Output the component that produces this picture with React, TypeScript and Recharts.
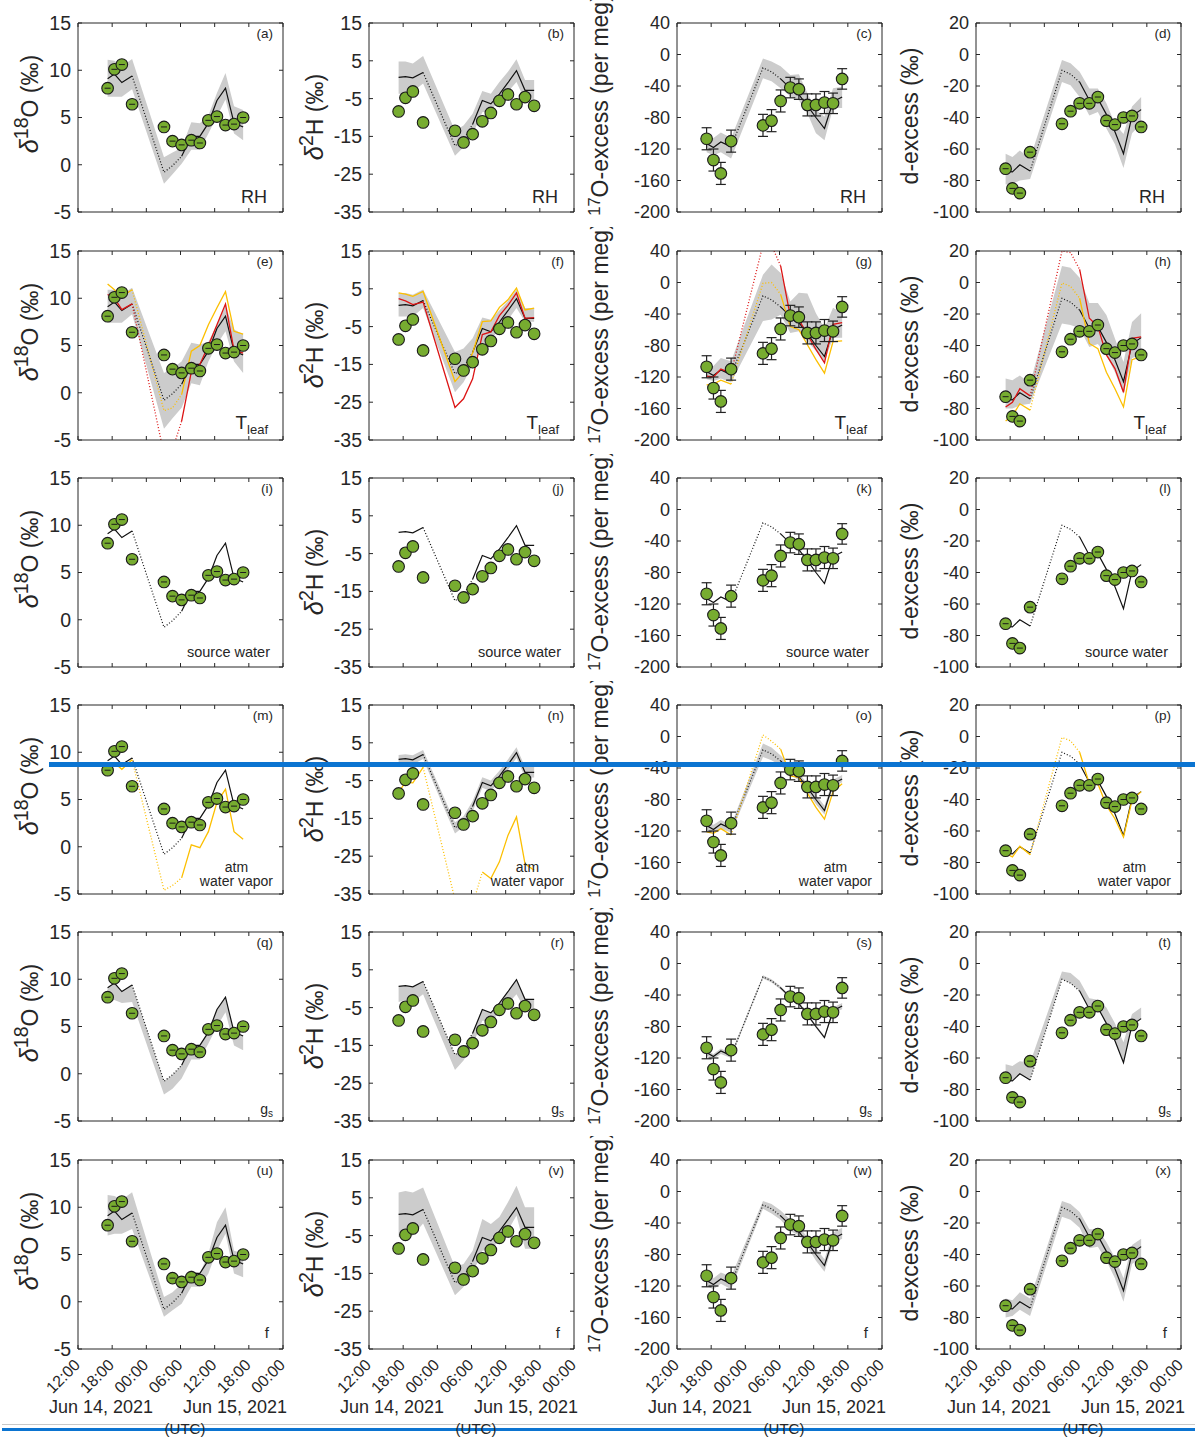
import type { ReactNode } from 'react'
import { Area, ComposedChart, ErrorBar, Line, Scatter, XAxis, YAxis } from 'recharts'

// sampling times, hours after Jun 14 2021 12:00 UTC
const hours = [5.2, 6.4, 7.7, 9.5, 15.1, 16.6, 18.2, 19.9, 21.4, 22.9, 24.4, 25.9, 27.4, 29.0]
const timeTicks = [0, 6, 12, 18, 24, 30, 36]
const timeLabels = ['12:00', '18:00', '00:00', '06:00', '12:00', '18:00', '00:00']

// d18O
const d18OTicks = [-5, 0, 5, 10, 15]
const obsD18O = [8.1, 10.1, 10.6, 6.4, 4.0, 2.5, 2.1, 2.6, 2.3, 4.7, 5.1, 4.2, 4.3, 5.0]
const modelD18O = [9.1, 9.6, 8.7, 9.4, -0.8, -0.1, 0.9, 3.0, 3.0, 4.4, 6.8, 8.1, 4.4, 4.0]
const bandRH18 = [[7.2, 11.1], [7.2, 11.0], [7.2, 10.4], [8.0, 11.2], [-2.0, 0.8], [-1.0, 1.3], [0.1, 1.8], [1.6, 4.5], [1.6, 4.4], [3.3, 5.2], [5.1, 7.6], [6.9, 9.7], [3.3, 6.2], [2.6, 5.8]]
const bandT18 = [[7.4, 10.9], [7.4, 10.9], [7.4, 10.4], [8.3, 11.1], [-3.8, 2.1], [-2.7, 2.6], [-1.6, 3.3], [1.0, 5.3], [0.8, 5.1], [3.3, 5.4], [5.1, 7.2], [6.5, 9.2], [3.3, 6.7], [2.1, 6.2]]
const yellowT18 = [11.5, 10.9, 10.2, 10.9, -1.9, -1.6, -0.2, 4.4, 5.0, 7.2, 9.0, 10.7, 6.5, 6.2]
const redT18 = [10.4, 10.0, 8.8, 9.4, -6.5, -6.0, -3.0, 2.2, 3.0, 5.0, 7.2, 9.4, 4.5, 4.2]
const yellowAtm18 = [8.1, 8.9, 8.2, 9.2, -4.6, -4.1, -3.3, 0.2, -0.1, 1.6, 4.7, 6.1, 1.6, 0.8]
const bandGs18 = [[7.6, 9.1], [7.8, 9.6], [7.5, 8.7], [7.6, 9.4], [-2.2, -0.8], [-1.6, -0.1], [-0.5, 0.9], [1.5, 3.0], [1.5, 3.0], [3.2, 4.4], [5.0, 6.8], [6.5, 8.1], [3.0, 4.4], [2.5, 4.0]]
const bandF18 = [[7.0, 11.3], [7.2, 11.2], [7.2, 10.8], [7.7, 11.6], [-1.6, 0.5], [-0.9, 1.0], [-0.2, 1.9], [1.6, 3.3], [1.6, 3.0], [3.0, 5.1], [5.4, 8.4], [7.2, 10.0], [3.0, 5.4], [2.6, 5.1]]

// d2H
const d2HTicks = [-35, -25, -15, -5, 5, 15]
const obsD2H = [-8.4, -4.8, -3.1, -11.3, -13.5, -16.6, -14.4, -11.0, -8.8, -5.6, -3.9, -6.5, -4.6, -6.9]
const modelD2H = [0.6, 0.8, 0.5, 1.9, -17.5, -15.8, -11.8, -5.5, -6.4, -3.8, -0.8, 2.4, -2.8, -2.8]
const bandRH2H = [[-3.7, 4.8], [-3.7, 4.8], [-3.2, 4.3], [-1.0, 6.3], [-20.1, -13.5], [-17.9, -12.1], [-14.4, -9.0], [-8.6, -3.0], [-8.1, -3.7], [-5.5, -0.6], [-3.2, 2.1], [-0.6, 5.4], [-5.5, -0.1], [-5.5, -0.1]]
const bandT2H = [[-2.3, 3.9], [-2.3, 3.9], [-2.3, 3.4], [-0.1, 4.8], [-22.4, -11.7], [-19.7, -10.8], [-15.2, -8.1], [-9.5, -2.6], [-8.6, -3.2], [-5.5, -0.7], [-3.2, 1.8], [-0.1, 4.8], [-3.7, -0.1], [-3.7, -0.1]]
const yellowT2H = [3.9, 3.6, 3.0, 4.3, -19.5, -17.0, -12.0, -3.7, -3.5, 0.1, 2.1, 5.2, -0.6, -0.1]
const redT2H = [2.4, 1.8, 0.8, 1.5, -26.4, -24.1, -18.8, -7.1, -6.4, -2.1, 0.6, 3.9, -2.8, -2.6]
const yellowAtm2H = [-8.1, -5.4, -5.6, -1.5, -36.5, -40.0, -37.8, -29.2, -30.9, -26.5, -19.5, -14.6, -27.0, -28.7]
const bandAtm2H = [[-0.6, 1.8], [-0.4, 2.0], [-0.7, 1.7], [0.7, 3.1], [-19.0, -16.0], [-17.2, -14.4], [-13.2, -10.4], [-6.9, -4.1], [-7.8, -5.0], [-5.2, -2.4], [-2.2, 0.6], [1.0, 3.8], [-4.2, -1.4], [-4.2, -1.4]]
const bandGs2H = [[-3.5, 0.6], [-3.0, 0.8], [-3.5, 0.5], [-1.5, 1.9], [-21.5, -17.5], [-19.0, -15.8], [-15.0, -11.8], [-8.5, -5.5], [-8.5, -6.4], [-6.5, -3.8], [-4.0, -0.8], [-1.5, 2.4], [-5.5, -2.8], [-5.5, -2.8]]
const bandF2H = [[-5.4, 6.4], [-5.4, 6.8], [-5.0, 6.4], [-1.8, 7.7], [-20.8, -13.3], [-18.6, -12.5], [-15.1, -9.0], [-9.0, -0.6], [-8.6, -1.9], [-6.3, -0.1], [-3.7, 3.8], [0.3, 8.2], [-8.5, 2.5], [-8.5, 2.5]]

// 17O-excess
const d17Ticks = [-200, -160, -120, -80, -40, 0, 40]
const obsD17 = [-107, -134, -151, -110, -90, -84, -59, -42, -44, -64, -64, -61, -62, -31]
const errD17 = [14, 14, 14, 14, 14, 14, 14, 13, 13, 14, 14, 14, 13, 13]
const modelD17 = [-113, -118, -111, -117, -17, -22, -31, -43, -51, -65, -80, -94, -60, -54]
const bandRH17 = [[-124, -102], [-128, -106], [-124, -99], [-132, -106], [-30, -5], [-34, -9], [-43, -15], [-53, -26], [-58, -25], [-75, -49], [-100, -70], [-109, -79], [-68, -43], [-68, -41]]
const bandT17 = [[-123, -104], [-125, -106], [-122, -96], [-127, -100], [-49, 10], [-47, 23], [-41, 12], [-64, -24], [-62, -13], [-75, -14], [-87, -39], [-100, -58], [-70, -32], [-70, -39]]
const yellowT17 = [-130, -129, -124, -129, -1, 0, -15, -56, -60, -79, -98, -115, -75, -74]
const redT17 = [-119, -120, -110, -115, 48, 47, 21, -43, -47, -66, -85, -102, -53, -51]
const yellowAtm17 = [-121, -123, -117, -125, 2, -6, -16, -50, -52, -72, -90, -105, -70, -60]
const bandAtm17 = [[-120, -108], [-123, -112], [-117, -106], [-122, -112], [-26, -9], [-30, -14], [-37, -24], [-48, -38], [-56, -46], [-70, -60], [-86, -74], [-99, -88], [-64, -55], [-58, -49]]
const bandGs17 = [[-117, -111], [-121, -115], [-115, -108], [-120, -114], [-19, -15], [-24, -20], [-33, -29], [-45, -41], [-53, -49], [-67, -63], [-82, -78], [-96, -92], [-63, -56], [-58, -50]]
const bandF17 = [[-120, -106], [-124, -110], [-117, -103], [-124, -108], [-22, -12], [-28, -16], [-36, -24], [-50, -36], [-56, -44], [-70, -58], [-88, -72], [-102, -86], [-66, -52], [-60, -46]]

// d-excess
const dexTicks = [-100, -80, -60, -40, -20, 0, 20]
const obsDex = [-72.5, -85, -88, -62, -44, -36, -31, -31, -27, -42, -44.5, -40, -39, -46]
const modelDex = [-74, -74.5, -70, -74, -10, -12.5, -17.5, -29, -28, -38, -49, -63, -39, -35]
const bandRHd = [[-82.5, -63], [-82, -65], [-80, -61], [-79, -66], [-17.4, -3.5], [-19.5, -5.5], [-27, -11], [-38.7, -21.6], [-36.5, -21.6], [-47, -31], [-57, -44], [-72, -50.5], [-50, -33], [-44, -27]]
const bandTd = [[-80, -61], [-80, -62], [-78, -59], [-77, -64], [-26, 10.4], [-27, 9.3], [-29, 3], [-41, -13], [-39, -13], [-46, -20.6], [-57, -35.5], [-70.8, -50.5], [-48, -25], [-46, -19.5]]
const yellowTd = [-88, -84.6, -77, -81, -0.3, -2.4, -10, -38.7, -42, -57, -67.5, -79, -49, -47]
const redTd = [-79, -76, -67.5, -72, 20, 19, 8.3, -22.7, -28, -46, -54.7, -69.7, -35.5, -34.5]
const yellowAtmd = [-74.3, -76.4, -69.7, -75, -0.6, -2.7, -10, -30, -30, -43.8, -52.2, -63.8, -40.6, -35]
const bandGsd = [[-74, -64], [-74.5, -65], [-70, -62], [-74, -63], [-10, -5], [-12.5, -6], [-17.5, -11], [-29, -22], [-28, -23], [-38, -28], [-49, -38], [-63, -50], [-39, -32], [-35, -28]]
const bandFd = [[-80, -68], [-79, -69], [-75, -64], [-79, -68], [-16, -6], [-18, -8], [-23, -13], [-36, -24], [-35, -24], [-44, -32], [-55, -42], [-70, -55], [-46, -34], [-42, -30]]

const INK = '#262626'
const GREEN = '#77ac30'
const GREY = '#cccccc'
const YELLOW = '#fcbf00'
const RED = '#dc1414'
const BLUE = '#0b74d1'
const FONT = "'Liberation Sans', Arial, sans-serif"

const PLOT_W = 205
const PLOT_H = 189
const AXIS_W = 70
const colLefts = [78, 369, 677, 976]
const rowTops = [23, 251, 478, 705, 932, 1160]
const letters = 'abcdefghijklmnopqrstuvwx'

type Band = number[][] | null
interface Extra { values: number[]; color: string; dotted: [number, number] | null }
interface Column {
  obs: number[]; err?: number[]; dash: boolean; model: number[]
  domain: [number, number]; ticks: number[]; tickFont: number
  title: ReactNode; titleDx: number; titleDy: number
}

const Sup = ({ children, size = 0.72 }: { children: ReactNode; size?: number }) => (
  <span style={{ fontSize: `${size}em`, position: 'relative', top: '-0.5em' }}>{children}</span>
)

const columns: Column[] = [
  { obs: obsD18O, dash: true, model: modelD18O, domain: [-5, 15], ticks: d18OTicks, tickFont: 19.5,
    title: <><i style={{ fontSize: '1.1em' }}>δ</i><Sup size={0.85}>18</Sup>O (‰)</>, titleDx: -48, titleDy: 81 },
  { obs: obsD2H, dash: false, model: modelD2H, domain: [-35, 15], ticks: d2HTicks, tickFont: 19.5,
    title: <><i style={{ fontSize: '1.1em' }}>δ</i><Sup size={0.85}>2</Sup>H (‰)</>, titleDx: -54, titleDy: 94 },
  { obs: obsD17, err: errD17, dash: false, model: modelD17, domain: [-200, 40], ticks: d17Ticks, tickFont: 18,
    title: <><Sup>17</Sup>O-excess (per meg)</>, titleDx: -77, titleDy: 82 },
  { obs: obsDex, dash: true, model: modelDex, domain: [-100, 20], ticks: dexTicks, tickFont: 18,
    title: <>d-excess (‰)</>, titleDx: -66, titleDy: 93 },
]

const night: [number, number] = [3, 6]

const rows: { bands: Band[]; extras: Extra[][]; note: ReactNode; right: number; cy: number }[] = [
  {
    bands: [bandRH18, bandRH2H, bandRH17, bandRHd],
    extras: [[], [], [], []],
    note: <span style={{ fontSize: 18 }}>RH</span>, right: 16, cy: 174,
  },
  {
    bands: [bandT18, bandT2H, bandT17, bandTd],
    extras: [
      [{ values: yellowT18, color: YELLOW, dotted: night }, { values: redT18, color: RED, dotted: night }],
      [{ values: yellowT2H, color: YELLOW, dotted: null }, { values: redT2H, color: RED, dotted: null }],
      [{ values: yellowT17, color: YELLOW, dotted: night }, { values: redT17, color: RED, dotted: night }],
      [{ values: yellowTd, color: YELLOW, dotted: night }, { values: redTd, color: RED, dotted: night }],
    ],
    note: <><span style={{ fontSize: 19 }}>T</span><span style={{ fontSize: 13, position: 'relative', top: 5 }}>leaf</span></>,
    right: 15, cy: 171,
  },
  {
    bands: [null, null, null, null],
    extras: [[], [], [], []],
    note: <span style={{ fontSize: 14.5 }}>source water</span>, right: 13, cy: 174,
  },
  {
    bands: [null, bandAtm2H, bandAtm17, null],
    extras: [
      [{ values: yellowAtm18, color: YELLOW, dotted: night }],
      [{ values: yellowAtm2H, color: YELLOW, dotted: [3, 7] }],
      [{ values: yellowAtm17, color: YELLOW, dotted: night }],
      [{ values: yellowAtmd, color: YELLOW, dotted: night }],
    ],
    note: <div style={{ textAlign: 'center', fontSize: 14, lineHeight: '14px' }}>atm<br />water vapor</div>,
    right: 10, cy: 169,
  },
  {
    bands: [bandGs18, bandGs2H, bandGs17, bandGsd],
    extras: [[], [], [], []],
    note: <><span style={{ fontSize: 14 }}>g</span><span style={{ fontSize: 10, position: 'relative', top: 3 }}>s</span></>,
    right: 10, cy: 177,
  },
  {
    bands: [bandF18, bandF2H, bandF17, bandFd],
    extras: [[], [], [], []],
    note: <span style={{ fontSize: 15 }}>f</span>, right: 14, cy: 173,
  },
]

const buildData = (c: Column, band: Band, extras: Extra[]) =>
  hours.map((t, i) => {
    const row: Record<string, unknown> = { t, obs: c.obs[i] }
    if (c.err) row.err = c.err[i]
    row.base = i <= night[0] || i >= night[1] ? c.model[i] : null
    row.baseDot = i >= night[0] && i <= night[1] ? c.model[i] : null
    if (band) row.band = band[i]
    extras.forEach((e, k) => {
      const d = e.dotted
      row[`e${k}`] = !d || i <= d[0] || i >= d[1] ? e.values[i] : null
      row[`e${k}d`] = d && i >= d[0] && i <= d[1] ? e.values[i] : null
    })
    return row
  })

const NoTick = () => <g />

const TimeTick = (p: { x?: number; y?: number; payload?: { value: number } }) => {
  const x = (p.x ?? 0) + 3
  const y = p.y ?? 0
  return (
    <text x={x} y={y} transform={`rotate(-45 ${x} ${y})`} textAnchor="end" fontSize={16} fill={INK}>
      {timeLabels[timeTicks.indexOf(p.payload?.value ?? 0)]}
    </text>
  )
}

const marker = (dash: boolean) => (p: { cx?: number; cy?: number }) => {
  if (p.cx == null || p.cy == null) return <g />
  return (
    <g>
      <circle cx={p.cx} cy={p.cy} r={5.8} fill={GREEN} stroke="#1a1a1a" strokeWidth={1.1} />
      {dash && <line x1={p.cx - 3} x2={p.cx + 3} y1={p.cy} y2={p.cy} stroke="#1a1a1a" strokeWidth={1} />}
    </g>
  )
}

const Panel = ({ row, col }: { row: number; col: number }) => {
  const c = columns[col]
  const r = rows[row]
  const band = r.bands[col]
  const extras = r.extras[col]
  const bottom = row === rowTops.length - 1
  const xh = bottom ? 48 : 1
  const mb = bottom ? 5 : 14
  const data = buildData(c, band, extras)
  return (
    <div style={{ position: 'absolute', left: colLefts[col] - AXIS_W, top: rowTops[row] - 11 }}>
      <ComposedChart
        width={AXIS_W + PLOT_W + 1 + 10}
        height={11 + PLOT_H + xh + mb}
        data={data}
        margin={{ top: 10, right: 10, bottom: mb, left: 0 }}
      >
        <XAxis dataKey="t" type="number" domain={[0, 36]} ticks={timeTicks} allowDataOverflow height={xh}
          tickSize={-4} tickMargin={bottom ? 21 : 4} tick={bottom ? TimeTick : NoTick} stroke={INK} />
        <XAxis xAxisId="top" orientation="top" dataKey="t" type="number" domain={[0, 36]} ticks={timeTicks}
          allowDataOverflow height={1} tickSize={-4} tick={NoTick} stroke={INK} />
        <YAxis type="number" domain={c.domain} ticks={c.ticks} allowDataOverflow width={AXIS_W} tickSize={-4}
          tickMargin={11} tick={{ fontSize: c.tickFont, fill: INK }} stroke={INK} />
        <YAxis yAxisId="right" orientation="right" type="number" domain={c.domain} ticks={c.ticks} allowDataOverflow
          width={1} tickSize={-4} tick={NoTick} stroke={INK} />
        {band && (
          <Area dataKey="band" type="linear" stroke="none" fill={GREY} fillOpacity={1} dot={false} activeDot={false}
            isAnimationActive={false} />
        )}
        <Line dataKey="base" type="linear" stroke="#111" strokeWidth={1.2} dot={false} activeDot={false}
          isAnimationActive={false} />
        <Line dataKey="baseDot" type="linear" stroke="#111" strokeWidth={1.2} strokeDasharray="1 2" dot={false}
          activeDot={false} isAnimationActive={false} />
        {extras.map((e, k) => [
          <Line key={`s${k}`} dataKey={`e${k}`} type="linear" stroke={e.color} strokeWidth={1.3} dot={false}
            activeDot={false} isAnimationActive={false} />,
          <Line key={`d${k}`} dataKey={`e${k}d`} type="linear" stroke={e.color} strokeWidth={1.3}
            strokeDasharray="1 2" dot={false} activeDot={false} isAnimationActive={false} />,
        ])}
        <Scatter dataKey="obs" shape={marker(c.dash)} isAnimationActive={false}>
          {c.err && <ErrorBar dataKey="err" direction="y" width={5} stroke="#222" strokeWidth={1.2} />}
        </Scatter>
      </ComposedChart>
    </div>
  )
}

const Notes = ({ row, col }: { row: number; col: number }) => {
  const r = rows[row]
  return (
    <div style={{ position: 'absolute', left: colLefts[col], top: rowTops[row], width: PLOT_W, height: PLOT_H, pointerEvents: 'none', color: INK }}>
      <div style={{ position: 'absolute', right: 10, top: 11, transform: 'translateY(-50%)', fontSize: 13.5, lineHeight: 1 }}>
        ({letters[row * 4 + col]})
      </div>
      <div style={{ position: 'absolute', right: r.right, top: r.cy, transform: 'translateY(-50%)', lineHeight: 1, whiteSpace: 'nowrap' }}>
        {r.note}
      </div>
    </div>
  )
}

const Title = ({ row, col }: { row: number; col: number }) => {
  const c = columns[col]
  return (
    <div style={{ position: 'absolute', left: colLefts[col] - 100, top: rowTops[row] - 24, width: 100, height: 227, overflow: 'hidden', pointerEvents: 'none' }}>
      <div style={{ position: 'absolute', left: 100 + c.titleDx, top: 24 + c.titleDy, transform: 'translate(-50%, -50%) rotate(-90deg)', whiteSpace: 'nowrap', fontSize: 23, lineHeight: 1, color: INK }}>
        {c.title}
      </div>
    </div>
  )
}

const DateLabels = ({ col }: { col: number }) => {
  const base = colLefts[col]
  const lab = (x: number, y: number, size: number, text: string) => (
    <div style={{ position: 'absolute', left: base + x, top: y, transform: 'translate(-50%, -50%)', fontSize: size, whiteSpace: 'nowrap', color: INK, lineHeight: 1 }}>
      {text}
    </div>
  )
  return (
    <>
      {lab(23, 1407, 18, 'Jun 14, 2021')}
      {lab(157, 1407, 18, 'Jun 15, 2021')}
      {lab(107, 1428, 15, '(UTC)')}
    </>
  )
}

export default function App() {
  const cells = rowTops.flatMap((_, r) => colLefts.map((__, c) => ({ r, c })))
  return (
    <div style={{ position: 'absolute', left: 0, top: 0, width: 1195, height: 1440, background: '#fff', fontFamily: FONT, overflow: 'hidden' }}>
      {cells.map(({ r, c }) => <Panel key={`p${r}${c}`} row={r} col={c} />)}
      {cells.map(({ r, c }) => <Title key={`t${r}${c}`} row={r} col={c} />)}
      {cells.map(({ r, c }) => <Notes key={`n${r}${c}`} row={r} col={c} />)}
      <div style={{ position: 'absolute', left: 49, top: 762, width: 1146, height: 5, background: BLUE }} />
      <div style={{ position: 'absolute', left: 2, top: 1424, width: 1193, height: 1, background: '#c8c8c8' }} />
      <div style={{ position: 'absolute', left: 2, top: 1428, width: 1193, height: 3, background: BLUE }} />
      {colLefts.map((_, c) => <DateLabels key={`d${c}`} col={c} />)}
    </div>
  )
}
